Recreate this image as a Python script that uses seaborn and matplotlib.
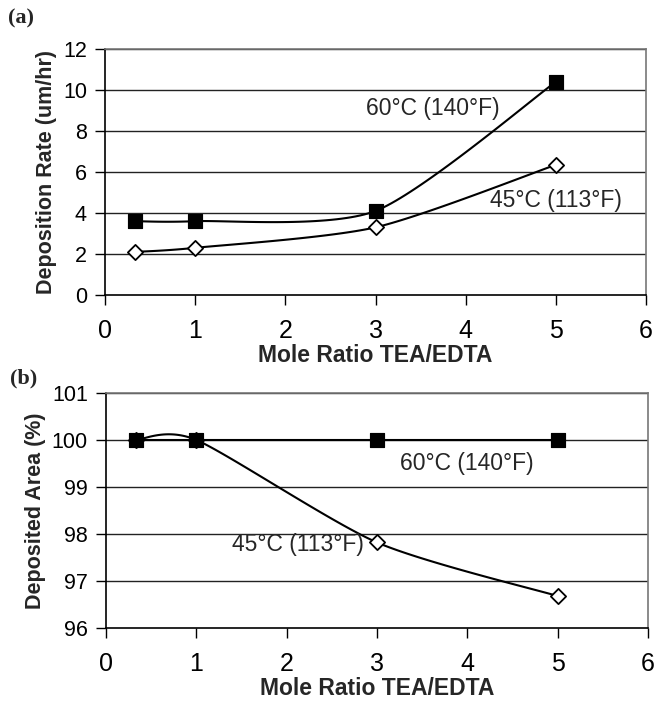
import numpy as np
import pandas as pd
import matplotlib
matplotlib.use('Agg')
import matplotlib.pyplot as plt
import seaborn as sns

# data
mole_ratio = [0.33, 1, 3, 5]
rate_60 = [3.6, 3.6, 4.1, 10.4]
rate_45 = [2.1, 2.3, 3.3, 6.35]
area_60 = [100.0, 100.0, 100.0, 100.0]
area_45 = [100.0, 100.0, 97.82, 96.68]
label_60 = '60°C (140°F)'
label_45 = '45°C (113°F)'

sns.set_style('white')
plt.rcParams['font.family'] = ['Liberation Sans', 'DejaVu Sans']


def smooth(x, y, n=40, k=8):
    # smoothed line like excel (bezier through the points)
    p = np.column_stack([x, y]).astype(float)
    out = []
    for i in range(len(p) - 1):
        p0 = p[i - 1] if i > 0 else p[i]
        p1, p2 = p[i], p[i + 1]
        p3 = p[i + 2] if i + 2 < len(p) else p[i + 1]
        c1 = p1 + (p2 - p0) / k
        c2 = p2 - (p3 - p1) / k
        t = np.linspace(0, 1, n)[:, None]
        seg = (1 - t) ** 3 * p1 + 3 * (1 - t) ** 2 * t * c1 + 3 * (1 - t) * t ** 2 * c2 + t ** 3 * p2
        out.append(seg if i == 0 else seg[1:])
    s = np.vstack(out)
    return pd.DataFrame({'x': s[:, 0], 'y': s[:, 1]})


def draw(ax, y60, y45, ylim, yticks, ylabel, labels):
    for yy in yticks[1:]:
        ax.axhline(yy, color='#222222', lw=1.0, zorder=0)
    sns.lineplot(data=smooth(mole_ratio, y45), x='x', y='y', sort=False, estimator=None,
                 color='black', lw=1.5, ax=ax)
    sns.lineplot(data=smooth(mole_ratio, y60), x='x', y='y', sort=False, estimator=None,
                 color='black', lw=1.5, ax=ax)
    sns.scatterplot(x=mole_ratio, y=y45, marker='D', s=60, color='white', edgecolor='black',
                    linewidth=1.3, ax=ax, zorder=3)
    sns.scatterplot(x=mole_ratio, y=y60, marker='s', s=110, color='black', edgecolor='black',
                    ax=ax, zorder=4)
    ax.set_xlim(0, 6)
    ax.set_ylim(*ylim)
    ax.set_xticks(range(7))
    ax.set_yticks(yticks)
    ax.tick_params(direction='out', length=7, width=1, bottom=True, left=True, colors='black')
    ax.tick_params(axis='y', labelsize=15.5, pad=6)
    ax.tick_params(axis='x', labelsize=18, pad=10)
    for side in ['top', 'right']:
        ax.spines[side].set_color('#777777')
    for side in ['left', 'bottom']:
        ax.spines[side].set_color('black')
    for sp in ax.spines.values():
        sp.set_linewidth(1.2)
    ax.set_xlabel('Mole Ratio TEA/EDTA', fontsize=16.5, fontweight='bold', labelpad=1)
    ax.set_ylabel(ylabel, fontsize=15.5, fontweight='bold', labelpad=4)
    for (tx, ty, txt) in labels:
        ax.text(tx, ty, txt, fontsize=16.5, ha='center', va='center')


fig = plt.figure(figsize=(6.54, 7.05), dpi=100)
ax1 = fig.add_axes([0.1606, 0.5816, 0.8272, 0.3489])
ax2 = fig.add_axes([0.162, 0.1092, 0.829, 0.3334])

draw(ax1, rate_60, rate_45, (0, 12), [0, 2, 4, 6, 8, 10, 12], 'Deposition Rate (um/hr)',
     [(3.63, 9.1, label_60), (5.0, 4.6, label_45)])
draw(ax2, area_60, area_45, (96, 101), [96, 97, 98, 99, 100, 101], 'Deposited Area (%)',
     [(3.99, 99.5, label_60), (2.12, 97.77, label_45)])

fig.text(8 / 654, 1 - 18 / 705, '(a)', fontsize=16, fontweight='bold', family='Liberation Serif',
         ha='left', va='center')
fig.text(10 / 654, 1 - 378 / 705, '(b)', fontsize=16, fontweight='bold', family='Liberation Serif',
         ha='left', va='center')

fig.savefig('out.png', dpi=100)
